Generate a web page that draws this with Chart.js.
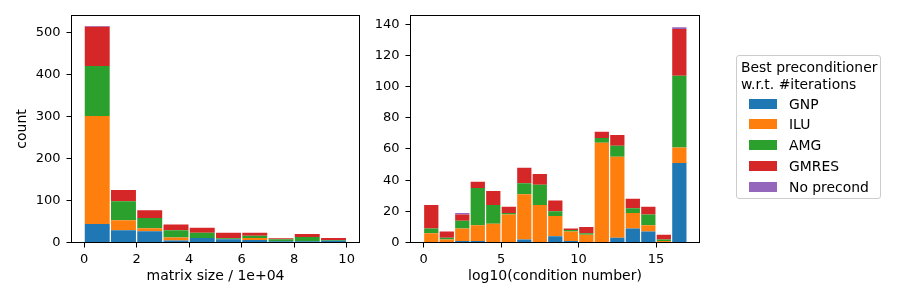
<!DOCTYPE html>
<html>
<head>
<meta charset="utf-8">
<script src="https://cdn.jsdelivr.net/npm/chart.js@4/dist/chart.umd.min.js"></script>
<style>
  html, body { margin: 0; padding: 0; background: #fff; }
  #wrap { position: relative; width: 900px; height: 300px; overflow: hidden; font-family: "DejaVu Sans", sans-serif; }
  #wrap canvas { position: absolute; left: 0; top: 0; }
  #legend { position: absolute; left: 736px; top: 55px; width: 145px; height: 144px; box-sizing: border-box;
            border: 1px solid #ccc; border-radius: 3px; background: rgba(255,255,255,.8); color: #000; font-size: 13.9px; }
  #legend .title { position: absolute; left: 4px; top: 3px; line-height: 16.7px; white-space: nowrap; }
  #legend .row { position: absolute; left: 12px; height: 10px; white-space: nowrap; }
  #legend .row i { position: absolute; left: 0; top: 0; width: 28px; height: 10px; }
  #legend .row span { position: absolute; left: 40px; top: -4px; line-height: 18px; }
</style>
</head>
<body>
<div id="wrap">
  <canvas id="sizeChart" width="900" height="300"></canvas>
  <canvas id="condChart" width="900" height="300"></canvas>
  <div id="legend"></div>
</div>
<script>
// series (stack order bottom -> top)
const seriesNames = ['GNP', 'ILU', 'AMG', 'GMRES', 'No precond'];
const seriesColors = ['#1f77b4', '#ff7f0e', '#2ca02c', '#d62728', '#9467bd'];
const legendTitle = ['Best preconditioner', 'w.r.t. #iterations'];

// left: matrix size histogram (bin centres, 1e+04 units)
const sizeBins = [0.5, 1.5, 2.5, 3.5, 4.5, 5.5, 6.5, 7.5, 8.5, 9.5];
const sizeGNP    = [44, 29, 27, 5, 11, 8, 6, 3, 3, 4];
const sizeILU    = [257, 24, 7, 7, 0, 0, 5, 0, 0, 0];
const sizeAMG    = [119, 45, 24, 17, 12, 2, 5, 5, 10, 2];
const sizeGMRES  = [93, 27, 19, 14, 12, 13, 7, 2, 7, 5];
const sizeNone   = [2, 0, 0, 0, 0, 0, 0, 0, 0, 0];
const sizeXTicks = [0, 2, 4, 6, 8, 10];
const sizeYTicks = [0, 100, 200, 300, 400, 500];

// right: log10(condition number) histogram
const condBins = [0.5, 1.5, 2.5, 3.5, 4.5, 5.5, 6.5, 7.5, 8.5, 9.5, 10.5, 11.5, 12.5, 13.5, 14.5, 15.5, 16.5];
const condGNP    = [0, 0, 1, 1, 0, 0, 2, 0, 4, 1, 0, 0, 3, 9, 7, 0, 51];
const condILU    = [6, 2, 8, 10, 12, 18, 29, 24, 13, 6, 5, 64, 52, 10, 4, 1, 10];
const condAMG    = [3, 1, 5, 24, 12, 1, 7, 13, 3, 1, 1, 3, 7, 3, 7, 1, 46];
const condGMRES  = [15, 4, 4, 4, 9, 4, 10, 7, 7, 1, 4, 4, 7, 6, 5, 3, 30];
const condNone   = [0, 0, 1, 0, 0, 0, 0, 0, 0, 0, 0, 0, 0, 0, 0, 0, 1];
const condXTicks = [0, 5, 10, 15];
const condYTicks = [0, 20, 40, 60, 80, 100, 120, 140];

const FONT = '"DejaVu Sans", sans-serif';

const framePlugin = {
  id: 'frame',
  afterDatasetsDraw(chart){
    const { ctx, chartArea: a } = chart;
    ctx.save();
    ctx.strokeStyle = '#000';
    ctx.lineWidth = 1;
    ctx.strokeRect(a.left, a.top, a.right - a.left, a.bottom - a.top);
    ctx.restore();
  }
};

function makeDatasets(bins, cols, barPct){
  return cols.map((vals, k) => ({
    label: seriesNames[k],
    data: bins.map((x, i) => ({ x: x, y: vals[i] })),
    backgroundColor: seriesColors[k],
    borderWidth: 0,
    barPercentage: barPct,
    categoryPercentage: 1
  }));
}

function axisBase(){
  return {
    grid: { display: true, offset: false, drawOnChartArea: false, drawTicks: true, tickLength: 5, color: '#000', lineWidth: 1 },
    border: { display: false },
    ticks: { color: '#000', font: { family: FONT, size: 13 } }
  };
}

function makeChart(id, cfg){
  const x = axisBase();
  Object.assign(x, {
    type: 'linear', stacked: true, offset: false, min: cfg.xMin, max: cfg.xMax,
    afterBuildTicks: s => { s.ticks = cfg.xTicks.map(v => ({ value: v })); },
    afterFit: s => { s.height = 57.5; },
    title: { display: true, text: cfg.xTitle, color: '#000', font: { family: FONT, size: 14 }, padding: { top: 0, bottom: 15 } }
  });
  x.ticks.padding = 4;
  const y = axisBase();
  Object.assign(y, {
    type: 'linear', stacked: true, min: 0, max: cfg.yMax,
    afterBuildTicks: s => { s.ticks = cfg.yTicks.map(v => ({ value: v })); },
    afterFit: s => { s.width = cfg.yWidth; },
    title: { display: !!cfg.yTitle, text: cfg.yTitle || '', color: '#000', font: { family: FONT, size: 14 }, padding: { top: 13.6, bottom: 0 } }
  });
  y.ticks.padding = 6;

  return new Chart(document.getElementById(id), {
    type: 'bar',
    data: { datasets: makeDatasets(cfg.bins, cfg.cols, cfg.barPct) },
    options: {
      responsive: false,
      devicePixelRatio: 1,
      animation: false,
      layout: { padding: cfg.padding },
      plugins: { legend: { display: false }, tooltip: { enabled: false } },
      scales: { x: x, y: y }
    },
    plugins: [framePlugin]
  });
}

makeChart('sizeChart', {
  bins: sizeBins,
  cols: [sizeGNP, sizeILU, sizeAMG, sizeGMRES, sizeNone],
  barPct: 0.95,
  xMin: -0.48, xMax: 10.49, xTicks: sizeXTicks, xTitle: 'matrix size / 1e+04',
  yMax: 540, yTicks: sizeYTicks, yTitle: 'count', yWidth: 71.5,
  padding: { left: 0, top: 15.5, right: 540.5, bottom: 0 }
});

makeChart('condChart', {
  bins: condBins,
  cols: [condGNP, condILU, condAMG, condGMRES, condNone],
  barPct: 0.92,
  xMin: -0.84, xMax: 17.8, xTicks: condXTicks, xTitle: 'log10(condition number)',
  yMax: 145.6, yTicks: condYTicks, yWidth: 40.5,
  padding: { left: 370, top: 15.5, right: 200.5, bottom: 0 }
});

// legend
(function(){
  const box = document.getElementById('legend');
  const t = document.createElement('div');
  t.className = 'title';
  t.innerHTML = legendTitle.join('<br>');
  box.appendChild(t);
  seriesNames.forEach((name, i) => {
    const row = document.createElement('div');
    row.className = 'row';
    row.style.top = (42.5 + i * 20.9) + 'px';
    row.innerHTML = `<i style="background:${seriesColors[i]}"></i><span>${name}</span>`;
    box.appendChild(row);
  });
})();
</script>
</body>
</html>
